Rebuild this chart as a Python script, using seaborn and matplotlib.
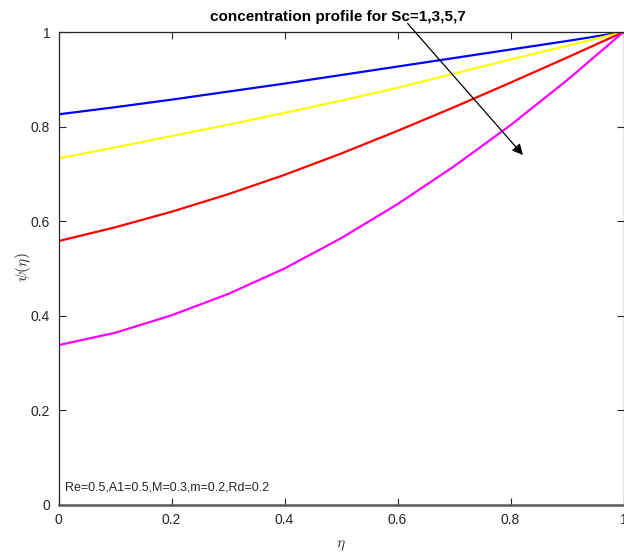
import numpy as np
import pandas as pd
import matplotlib
matplotlib.use("Agg")
import matplotlib.pyplot as plt
import seaborn as sns
from matplotlib.ticker import FuncFormatter

eta = [0.0, 0.1, 0.2, 0.3, 0.4, 0.5, 0.6, 0.7, 0.8, 0.9, 1.0]
psi_sc1 = [0.826, 0.841, 0.857, 0.874, 0.891, 0.909, 0.927, 0.945, 0.963, 0.981, 1.0]
psi_sc3 = [0.733, 0.756, 0.780, 0.804, 0.829, 0.855, 0.882, 0.912, 0.942, 0.971, 1.0]
psi_sc5 = [0.558, 0.587, 0.620, 0.657, 0.698, 0.743, 0.791, 0.841, 0.893, 0.946, 1.0]
psi_sc7 = [0.338, 0.364, 0.401, 0.446, 0.500, 0.564, 0.636, 0.716, 0.803, 0.898, 1.0]
series_names = ["Sc=1", "Sc=3", "Sc=5", "Sc=7"]
colors = ["#0000ff", "#ffff00", "#ff0000", "#ff00ff"]
xticks = [0, 0.2, 0.4, 0.6, 0.8, 1]
yticks = [0, 0.2, 0.4, 0.6, 0.8, 1]

sns.set_theme(style="white")
plt.rcParams['font.family'] = ['Liberation Sans', 'DejaVu Sans']
plt.rcParams['mathtext.fontset'] = 'cm'

frames = []
for name, vals in zip(series_names, [psi_sc1, psi_sc3, psi_sc5, psi_sc7]):
    frames.append(pd.DataFrame({"eta": eta, "psi": vals, "Sc": name}))
df = pd.concat(frames, ignore_index=True)

fig = plt.figure(figsize=(6.24, 5.57), dpi=100)
ax = fig.add_axes([0.0938, 0.0934, 0.9054, 0.8491])
sns.lineplot(data=df, x="eta", y="psi", hue="Sc", palette=colors, linewidth=1.6,
             legend=False, ax=ax, estimator=None, sort=False)

ax.set_xlim(0, 1)
ax.set_ylim(0, 1)
ax.set_xticks(xticks)
ax.set_yticks(yticks)
fmt = FuncFormatter(lambda v, p: ("%g" % v))
ax.xaxis.set_major_formatter(fmt)
ax.yaxis.set_major_formatter(fmt)
ax.tick_params(direction="in", length=5, width=0.8, labelsize=10, colors="#262626",
               top=True, right=True, bottom=True, left=True)
ax.tick_params(axis="both", labelcolor="#262626", pad=6)
for s in ["left", "right", "top"]:
    ax.spines[s].set_color("#262626")
    ax.spines[s].set_linewidth(0.9)
ax.spines["bottom"].set_color("#5a5a5a")
ax.spines["bottom"].set_linewidth(1.8)

ax.set_xlabel(r"$\eta$", fontsize=11, color="#262626", labelpad=8)
ax.set_ylabel(r"$\psi(\eta)$", fontsize=11, color="#262626")
ax.yaxis.label.set_va("center")
ax.yaxis.set_label_coords(-0.063, 0.503)

ax.text(0.268, 1.031, "concentration profile for Sc=1,3,5,7", fontsize=11,
        fontweight="bold", color="black", ha="left", va="center", clip_on=False)
ax.annotate("", xy=(0.822, 0.74), xytext=(0.618, 1.018),
            arrowprops=dict(arrowstyle="-|>", color="black", lw=0.9,
                            mutation_scale=16, shrinkA=0, shrinkB=0),
            annotation_clip=False)
ax.text(0.012, 0.038, "Re=0.5,A1=0.5,M=0.3,m=0.2,Rd=0.2", fontsize=9,
        color="#262626", ha="left", va="center")

fig.savefig("out.png", dpi=100)
